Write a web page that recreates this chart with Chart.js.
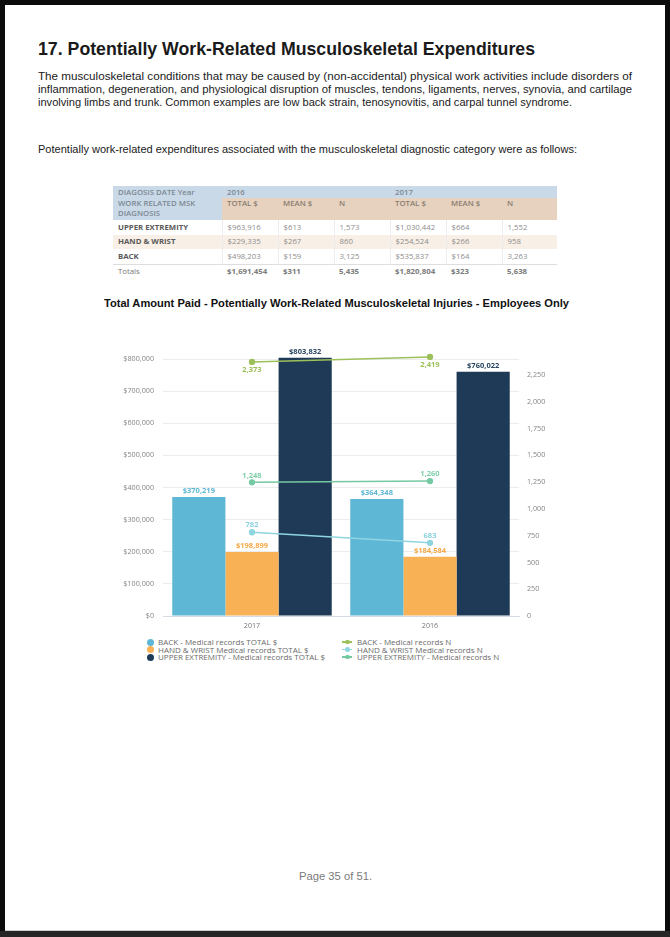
<!DOCTYPE html>
<html><head><meta charset="utf-8">
<script src="https://cdn.jsdelivr.net/npm/chart.js@4.4.1/dist/chart.umd.min.js"></script>
<style>
html,body{margin:0;padding:0;}
body{width:670px;height:937px;background:#0b0b0b;position:relative;overflow:hidden;font-family:"Liberation Sans",Arial,sans-serif;}
#page{position:absolute;left:5px;top:5px;width:660px;height:925px;background:#fff;border-bottom:1px solid #cfcfcf;}
#band{position:absolute;left:0;top:931px;width:670px;height:6px;background:#262626;}
.t{position:absolute;white-space:nowrap;transform-origin:0 0;color:#111;}
#h1{left:38px;top:40px;font-size:18px;line-height:18px;font-weight:bold;color:#1a1a1a;}
.p{left:38px;font-size:11px;line-height:11px;color:#1a1a1a;}
#ctitle{left:104px;top:298px;font-size:11px;line-height:11px;font-weight:bold;color:#111;}
#pnum{left:299px;top:871px;font-size:10.5px;line-height:10.5px;color:#7a7a7a;}
#tbl{position:absolute;left:113px;top:186px;width:444px;border-collapse:collapse;table-layout:fixed;font-family:"Open Sans",sans-serif;font-size:7.8px;color:#8e8e8e;}
#tbl td{padding:0 0 0 5px;overflow:hidden;white-space:nowrap;vertical-align:middle;line-height:9px;}
#tbl tr.r1 td{background:#c9d9e7;height:12px;font-weight:600;color:#7c8894;}
#tbl tr.r2 td{background:#e6d2bf;height:21px;vertical-align:top;padding-top:1px;font-weight:600;color:#8a7d70;}
#tbl tr.r2 td.first{background:#c9d9e7;line-height:10px;color:#7c8894;padding-top:0;}
#tbl tr.d td{height:14.5px;border-left:1px solid #ececec;}
#tbl tr.d td:first-child{border-left:none;font-weight:700;color:#5a5a5a;}
#tbl tr.alt td{background:#f8efe6;}
#tbl tr.tot td{height:14px;border-top:1px solid #dedede;font-weight:700;color:#7a7a7a;}
#tbl tr.tot td:first-child{font-weight:400;color:#777;}
#chartwrap{position:absolute;left:100px;top:330px;width:470px;height:304px;}
.lg{position:absolute;font-family:"Open Sans",sans-serif;font-size:8px;line-height:8px;color:#6a6a6a;white-space:nowrap;}
.dot{position:absolute;width:7px;height:7px;border-radius:50%;}
.lmk{position:absolute;width:10px;height:1.5px;}
.lmk i{position:absolute;left:3px;top:-1.5px;width:4.5px;height:4.5px;border-radius:50%;}
</style></head>
<body>
<div id="page"></div><div id="band"></div>

<div class="t" id="h1" data-w="497">17. Potentially Work-Related Musculoskeletal Expenditures</div>
<div class="t p" style="top:70.5px" data-w="594">The musculoskeletal conditions that may be caused by (non-accidental) physical work activities include disorders of</div>
<div class="t p" style="top:83.5px" data-w="594">inflammation, degeneration, and physiological disruption of muscles, tendons, ligaments, nerves, synovia, and cartilage</div>
<div class="t p" style="top:97px" data-w="534">involving limbs and trunk. Common examples are low back strain, tenosynovitis, and carpal tunnel syndrome.</div>
<div class="t p" style="top:143.5px" data-w="539">Potentially work-related expenditures associated with the musculoskeletal diagnostic category were as follows:</div>

<table id="tbl">
<colgroup><col style="width:109px"><col style="width:56px"><col style="width:56px"><col style="width:56px"><col style="width:56px"><col style="width:56px"><col style="width:55px"></colgroup>
<tbody id="tbody"></tbody>
</table>

<div class="t" id="ctitle" data-w="465">Total Amount Paid - Potentially Work-Related Musculoskeletal Injuries - Employees Only</div>

<div id="chartwrap"><canvas id="c" width="470" height="304" style="width:470px;height:304px"></canvas></div>

<div id="legend"></div>

<div class="t" id="pnum" data-w="73">Page 35 of 51.</div>

<script>
// ---------- data ----------
const categories = ['2017', '2016'];
const backTotal = [370219, 364348];
const handTotal = [198899, 184584];
const upperTotal = [803832, 760022];
const backN = [2373, 2419];
const handN = [782, 683];
const upperN = [1248, 1260];
const seriesNames = [
  'BACK - Medical records TOTAL $',
  'HAND & WRIST  Medical records TOTAL $',
  'UPPER EXTREMITY - Medical records TOTAL $',
  'BACK - Medical records N',
  'HAND & WRIST  Medical records N',
  'UPPER EXTREMITY - Medical records N'
];

// table data
const tableYears = ['2016', '2017'];
const tableCols = ['TOTAL $', 'MEAN $', 'N'];
const tableRowNames = ['UPPER EXTREMITY', 'HAND & WRIST', 'BACK', 'Totals'];
const tableRows = [
  ['$963,916', '$613', '1,573', '$1,030,442', '$664', '1,552'],
  ['$229,335', '$267', '860', '$254,524', '$266', '958'],
  ['$498,203', '$159', '3,125', '$535,837', '$164', '3,263'],
  ['$1,691,454', '$311', '5,435', '$1,820,804', '$323', '5,638']
];

// ---------- table ----------
(function(){
  const tb = document.getElementById('tbody');
  let h = '<tr class="r1"><td>DIAGOSIS DATE Year</td><td colspan="3">' + tableYears[0] + '</td><td colspan="3">' + tableYears[1] + '</td></tr>';
  h += '<tr class="r2"><td class="first">WORK RELATED MSK<br>DIAGNOSIS</td>';
  for (let y = 0; y < 2; y++) tableCols.forEach(c => h += '<td>' + c + '</td>');
  h += '</tr>';
  tableRows.forEach((r, i) => {
    const cls = i === 3 ? 'tot' : (i === 1 ? 'd alt' : 'd');
    h += '<tr class="' + cls + '"><td>' + tableRowNames[i].replace('&', '&amp;') + '</td>' + r.map(v => '<td>' + v + '</td>').join('') + '</tr>';
  });
  tb.innerHTML = h;
})();

// ---------- helpers ----------
const fmtNum = v => String(Math.round(v)).replace(/\B(?=(\d{3})+(?!\d))/g, ',');
const fmtMoney = v => '$' + fmtNum(v);

const colors = {
  back: '#5db7d5', hand: '#f8b154', upper: '#1f3a56',
  backN: '#9cc05a', handN: '#8ed5e0', upperN: '#74c9a2'
};

// ---------- chart ----------
const labelPlugin = {
  id: 'vlabels',
  afterDatasetsDraw(chart) {
    const ctx = chart.ctx;
    chart.data.datasets.forEach((ds, i) => {
      const meta = chart.getDatasetMeta(i);
      if (meta.hidden) return;
      meta.data.forEach((el, j) => {
        const v = ds.data[j];
        ctx.save();
        ctx.font = 'bold 7.5px "Open Sans"';
        ctx.fillStyle = ds.labelColor;
        ctx.textAlign = 'center';
        ctx.textBaseline = 'middle';
        let y, text;
        if (ds.type === 'bar') { y = el.y - 6; text = fmtMoney(v); }
        else { y = ds.labelBelow ? el.y + 8 : el.y - 7; text = fmtNum(v); }
        ctx.fillText(text, el.x, y);
        ctx.restore();
      });
    });
  }
};

const tickFont = { family: 'Open Sans', size: 7.2 };
const barCommon = { type: 'bar', yAxisID: 'y', order: 2, barPercentage: 1, categoryPercentage: 0.896, clip: false, borderWidth: 0 };
const lineCommon = { type: 'line', yAxisID: 'y1', order: 1, borderWidth: 1.5, pointRadius: 2.4, pointHoverRadius: 2.4, tension: 0, clip: false };

new Chart(document.getElementById('c'), {
  type: 'bar',
  data: {
    labels: categories,
    datasets: [
      Object.assign({}, barCommon, { label: seriesNames[0], data: backTotal, backgroundColor: colors.back, labelColor: '#5db7d5' }),
      Object.assign({}, barCommon, { label: seriesNames[1], data: handTotal, backgroundColor: colors.hand, labelColor: '#f5a846' }),
      Object.assign({}, barCommon, { label: seriesNames[2], data: upperTotal, backgroundColor: colors.upper, labelColor: '#2a4560' }),
      Object.assign({}, lineCommon, { label: seriesNames[3], data: backN, borderColor: colors.backN, backgroundColor: colors.backN, pointBackgroundColor: colors.backN, labelColor: '#9cc05a', labelBelow: true }),
      Object.assign({}, lineCommon, { label: seriesNames[4], data: handN, borderColor: colors.handN, backgroundColor: colors.handN, pointBackgroundColor: colors.handN, labelColor: '#8ad2de' }),
      Object.assign({}, lineCommon, { label: seriesNames[5], data: upperN, borderColor: colors.upperN, backgroundColor: colors.upperN, pointBackgroundColor: colors.upperN, labelColor: '#7fcfa9' })
    ]
  },
  options: {
    responsive: false,
    devicePixelRatio: 1,
    animation: false,
    layout: { padding: { top: 29, left: 0, right: 0, bottom: 0 } },
    plugins: { legend: { display: false }, title: { display: false }, tooltip: { enabled: false } },
    scales: {
      x: {
        offset: true,
        grid: { display: false, drawTicks: false },
        border: { display: true, color: '#d6dce4', width: 1 },
        ticks: { font: tickFont, color: '#777', padding: 6 },
        afterFit: s => { s.height = 18; }
      },
      y: {
        position: 'left', min: 0, max: 800000,
        ticks: { stepSize: 100000, callback: v => fmtMoney(v), font: tickFont, color: '#858585', padding: 9 },
        grid: { color: '#ececec', drawTicks: false, lineWidth: 1 },
        border: { display: false },
        afterFit: s => { s.width = 63; }
      },
      y1: {
        position: 'right', min: 0, max: 2400,
        ticks: { stepSize: 250, callback: v => (v % 250 === 0 ? fmtNum(v) : ''), font: tickFont, color: '#858585', padding: 8 },
        grid: { display: false, drawTicks: false },
        border: { display: false },
        afterFit: s => { s.width = 51; }
      }
    }
  },
  plugins: [labelPlugin]
});

// ---------- legend (HTML, built from series) ----------
(function(){
  const lg = document.getElementById('legend');
  const rowsY = [642, 649.5, 657];
  const barCols = [colors.back, colors.hand, colors.upper];
  const lineCols = [colors.backN, colors.handN, colors.upperN];
  let h = '';
  for (let i = 0; i < 3; i++) {
    const y = rowsY[i];
    h += '<div class="dot" style="left:146.5px;top:' + (y - 3.5) + 'px;background:' + barCols[i] + '"></div>';
    h += '<div class="lg" style="left:158px;top:' + (y - 4) + 'px">' + seriesNames[i].replace('&', '&amp;') + '</div>';
    h += '<div class="lmk" style="left:342px;top:' + (y - 0.75) + 'px;background:' + lineCols[i] + '"><i style="background:' + lineCols[i] + '"></i></div>';
    h += '<div class="lg" style="left:357px;top:' + (y - 4) + 'px">' + seriesNames[i + 3].replace('&', '&amp;') + '</div>';
  }
  lg.innerHTML = h;
})();

// ---------- fit text widths ----------
function fitTexts(){
  document.querySelectorAll('[data-w]').forEach(el => {
    el.style.transform = 'none';
    const w = parseFloat(el.dataset.w);
    const nat = el.getBoundingClientRect().width;
    if (nat > 0) el.style.transform = 'scaleX(' + (w / nat) + ')';
  });
}
fitTexts();
if (document.fonts && document.fonts.ready) document.fonts.ready.then(fitTexts);
</script>
</body></html>
